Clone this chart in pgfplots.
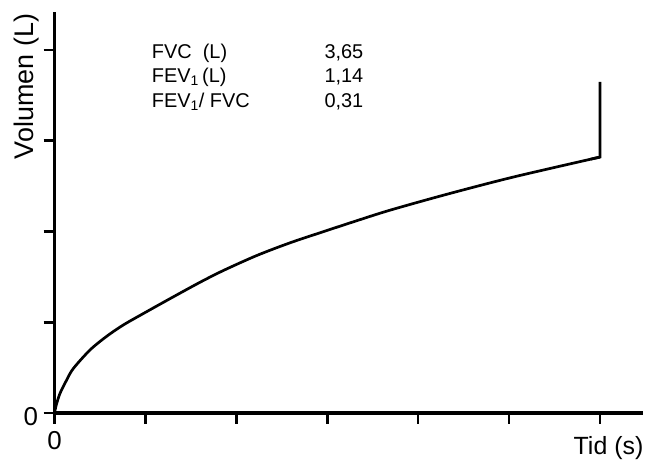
\documentclass[border=0pt]{standalone}
\usepackage{pgfplots}
\pgfplotsset{compat=1.18}
\usepackage{fontspec}
\setmainfont{Liberation Sans}
\begin{document}
\begin{tikzpicture}
\path[use as bounding box] (-54.5bp,-50bp) rectangle (595.5bp,413bp);
\begin{axis}[
  at={(0,0)}, anchor=south west,
  scale only axis,
  width=588.5bp, height=401bp,
  xmin=0, xmax=6.474, ymin=0, ymax=4.419,
  axis lines=left,
  axis line style={-, line width=3bp, black},
  tick align=outside,
  major tick length=11bp,
  tick style={line width=2.7bp, black},
  xtick={0,1,2,3,4,5,6},
  ytick={0,1,2,3,4},
  xticklabels={0,{},{},{},{},{},{}},
  yticklabels={0,{},{},{},{}},
  xticklabel style={font=\fontsize{26}{30}\selectfont, yshift=-4bp},
  yticklabel style={font=\fontsize{26}{30}\selectfont, xshift=-2bp, yshift=-4bp},
  /pgf/number format/assume math mode=true,
  clip=false,
]
\addplot[black, line width=2.7bp, line join=round, smooth, tension=0.5] coordinates {
(0,0) (0.02,0.09) (0.06,0.215) (0.134,0.364) (0.207,0.49) (0.39,0.694)
(0.574,0.845) (0.757,0.97) (1.02,1.12) (1.307,1.28) (1.60,1.44)
(1.857,1.57) (2.224,1.735) (2.59,1.875) (2.957,1.998) (3.325,2.119)
(3.691,2.235) (4.315,2.41) (5.047,2.60) (6,2.82)
};
\addplot[black, line width=2.7bp, line join=miter] coordinates {
(5.9,2.798) (6,2.82) (6,3.65)
};
\end{axis}
\node[rotate=90, anchor=base, font=\fontsize{27}{32}\selectfont] at (-21.5bp,326.5bp) {Volumen (L)};
\node[anchor=base, font=\fontsize{25}{30}\selectfont] at (554bp,-41bp) {Tid (s)};
\begin{scope}[every node/.style={anchor=base west, inner sep=0pt, font=\fontsize{20}{24}\selectfont}]
\node at (97.2bp,354.7bp) {FVC\ \ (L)};
\node at (97.2bp,330.3bp) {FEV\textsubscript{1}\,(L)};
\node at (97.2bp,305.7bp) {FEV\textsubscript{1}/ FVC};
\node at (269.8bp,354.7bp) {3,65};
\node at (269.8bp,330.3bp) {1,14};
\node at (269.8bp,305.7bp) {0,31};
\end{scope}
\end{tikzpicture}
\end{document}
